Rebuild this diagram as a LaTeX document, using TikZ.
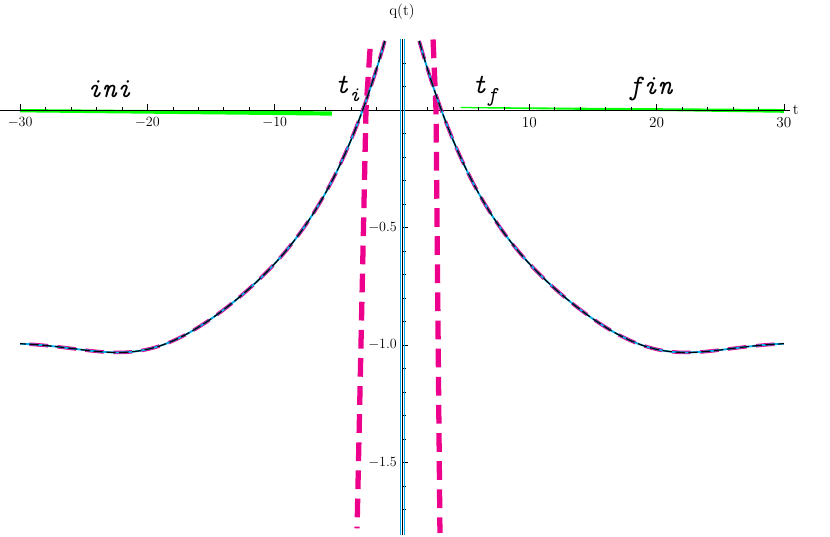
\documentclass[tikz,border=0pt]{standalone}
\usepackage{tikz}

\tikzset{
  tick/.style={black, line width=0.5pt},
  ticklabel/.style={font=\fontsize{13}{13}\selectfont, inner sep=1pt},
  zone/.style={font=\fontsize{24}{24}\selectfont\ttfamily\itshape, inner sep=0pt},
  pole/.style={magenta, line width=4.5pt, dash pattern=on 16pt off 8pt},
  curve/.style={cyan, line width=1.6pt},
  blackdash/.style={black, line width=1pt, dash pattern=on 8pt off 3pt}
}
\newcommand{\zonesub}[1]{\raisebox{-0.3em}{\fontsize{18}{18}\selectfont #1}}

\begin{document}
\begin{tikzpicture}[x=0.3819cm, y=7.05cm]
\useasboundingbox (-31.58, 0.468) rectangle ( 33.62, -1.817 );

% Green asymptotes
\fill[green] ( -30, 0.004 ) -- ( -5.5, -0.006 ) -- ( -5.5, -0.024 ) -- ( -30, -0.01 ) -- cycle;
\fill[green] ( 4.6, 0.013 ) -- ( 30, 0.004 ) -- ( 30, -0.012 ) -- ( 4.6, 0.008 ) -- cycle;

% Axes
\draw[black, line width=0.5pt] ( -31.6, 0 ) -- ( 30.5, 0 );
\node[ticklabel, right] (tlab) at ( 30.6, 0 ) {t};
\node[ticklabel] (qlab) at ( 0, 0.42 ) {q(t)};

% Ticks on t
\foreach \x in { -30, -20, -10, 10, 20, 30 }
  \draw[tick] ( \x, 0 ) -- ++( 0, 0.025 );
\foreach \x in { -28, -26, ..., 28 }
  \draw[tick] ( \x, 0 ) -- ++( 0, 0.014 );
\foreach \x/\l in { -30/$-30$, -20/$-20$, -10/$-10$, 10/10, 20/20, 30/30 }
  \node[ticklabel, below] at ( \x, -0.025 ) {\l};

% Ticks on q
\foreach \y in { -1.7, -1.6, ..., 0.25 }
  \draw[tick] ( 0, \y ) -- ++( 0.3, 0 );
\foreach \y in { -1.5, -1, -0.5 }
  \draw[tick] ( 0, \y ) -- ++( 0.5, 0 );
\foreach \y/\l in { -0.5/$-0.5$, -1/$-1.0$, -1.5/$-1.5$ }
  \node[ticklabel, left] at ( -0.3, \y ) {\l};

% Pole lines
\draw[pole] ( -2.51, 0.26 ) -- ( -2.83, 0 ) -- ( -3.53, -1.78 );
\draw[pole] ( 2.44, 0.3 ) -- ( 2.67, 0 ) -- ( 2.98, -1.8 );

% Solution
\begin{scope}
\clip ( -31, 0.3 ) rectangle ( 31, -1.8 );
\foreach \s in { -1, 1 } {
  \draw[pole, line width=3pt] plot[domain=1.35:30, samples=120, smooth]
    ( {\s*\x}, {-1 + 1.58*exp(-\x/6.75) - 0.1*exp(-((\x-20)/7)^2)} );
  \draw[curve] plot[domain=1.35:30, samples=120, smooth]
    ( {\s*\x}, {-1 + 1.58*exp(-\x/6.75) - 0.1*exp(-((\x-20)/7)^2)} );
  \draw[blackdash] plot[domain=1.35:30, samples=120, smooth]
    ( {\s*\x}, {-1 + 1.58*exp(-\x/6.75) - 0.1*exp(-((\x-20)/7)^2)} );
}
\end{scope}

% Singular line
\draw[cyan, line width=0.6pt] ( -0.16, 0.3 ) -- ( -0.16, -1.81 );
\draw[cyan, line width=0.6pt] ( 0.16, 0.3 ) -- ( 0.16, -1.81 );
\draw[black, line width=0.5pt] ( 0, 0.3 ) -- ( 0, -1.81 );

% Zones
\node[zone] (ini) at ( -23, 0.09 ) {ini};
\node[zone] (ti) at ( -4.3, 0.09 ) {t\zonesub{i}};
\node[zone] (tf) at ( 6.5, 0.08 ) {t\zonesub{f}};
\node[zone] (fin) at ( 19.5, 0.09 ) {fin};

\end{tikzpicture}
\end{document}
